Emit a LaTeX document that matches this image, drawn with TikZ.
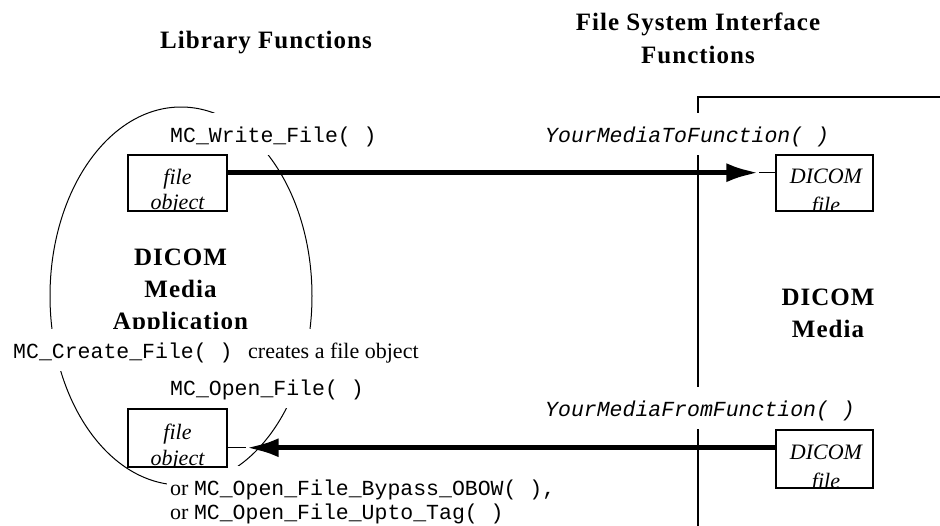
\documentclass[tikz,border=0pt]{standalone}
\usepackage{fontspec}
\setmainfont{Liberation Serif}
\setmonofont{Liberation Mono}
\newfontfamily\headfont[LetterSpace=4]{Liberation Serif}
\usetikzlibrary{arrows.meta,calc}
\begin{document}
\begin{tikzpicture}[x=1pt,y=-1pt,
  heading/.style={font=\headfont\bfseries\fontsize{25}{30}\selectfont, anchor=base, inner sep=0pt},
  lbl/.style={anchor=base west, fill=white, text height=16pt, text depth=0pt, inner ysep=13pt, inner xsep=3pt},
  monolbl/.style={lbl, font=\ttfamily\fontsize{21.5}{26}\selectfont},
  seriflbl/.style={lbl, font=\fontsize{22}{26}\selectfont},
  objbox/.style={draw, line width=1.3pt, minimum width=99pt, minimum height=56pt, inner sep=0pt},
  boxtxt/.style={font=\itshape\fontsize{22}{26}\selectfont, anchor=base, inner sep=0pt},
  bigline/.style={line width=5.5pt, -{Latex[length=33pt,width=19pt]}},
  thinline/.style={line width=1.5pt},
  frameline/.style={line width=1.3pt},
]
\useasboundingbox (0,0) rectangle (940,525);

% headings
\node[heading] (lib) at (266,48) {Library Functions};
\node[heading] (fsi1) at (698,30) {File System Interface};
\node[heading] (fsi2) at (698,63) {Functions};

% media region frame
\draw[frameline] (698,527) -- (698,97) -- (942,97);
\node[heading] (dm1) at (828,305) {DICOM};
\node[heading] (dm2) at (828,337) {Media};

% application ellipse
\draw[line width=1pt] (181,296) ellipse [x radius=131, y radius=189];
\node[heading] (da1) at (180.5,265) {DICOM};
\node[heading] (da2) at (180.5,297) {Media};
\node[heading] (da3) at (180.5,329) {Application};

% labels with white frames
\node[monolbl] (wr) at (167,142) {MC\_Write\_File( )};
\node[monolbl] (ymt) at (542,142) {\itshape YourMediaToFunction( )};
\node[monolbl] (cr) at (10,358) {MC\_Create\_File( )};
\node[seriflbl] (cro) at (245,358) {creates a file object};
\node[monolbl] (op) at (167,395) {MC\_Open\_File( )};
\node[monolbl] (ymf) at (542,416) {\itshape YourMediaFromFunction( )};
\node[monolbl] (orA) at (167,495) {{\rmfamily\fontsize{22}{26}\selectfont or }MC\_Open\_File\_Bypass\_OBOW( ),};
\node[monolbl, fill=none] (orB) at (167,519) {{\rmfamily\fontsize{22}{26}\selectfont or }MC\_Open\_File\_Upto\_Tag( )};

% boxes
\node[objbox] (fo1) at (177.5,183) {};
\node[objbox, minimum height=58pt] (fo2) at (177.5,438) {};
\node[objbox, minimum width=97pt] (df1) at (824.5,183) {};
\node[objbox, minimum width=97pt, minimum height=58pt] (df2) at (824.5,459) {};

\begin{scope}
  \clip (fo1.south west) rectangle (fo1.north east);
  \node[boxtxt] (fo1a) at (177.5,184) {file};
  \node[boxtxt] (fo1b) at (177.5,209) {object};
\end{scope}
\begin{scope}
  \clip (fo2.south west) rectangle (fo2.north east);
  \node[boxtxt] (fo2a) at (177.5,439) {file};
  \node[boxtxt] (fo2b) at (177.5,465) {object};
\end{scope}
\begin{scope}
  \clip (df1.south west) rectangle (df1.north east);
  \node[boxtxt] (df1a) at (826,183) {DICOM};
  \node[boxtxt] (df1b) at (826,212) {file};
\end{scope}
\begin{scope}
  \clip (df2.south west) rectangle (df2.north east);
  \node[boxtxt] (df2a) at (826,459) {DICOM};
  \node[boxtxt] (df2b) at (826,488) {file};
\end{scope}

% arrows
\coordinate (a1s) at ($(fo1.north east)!0.32!(fo1.south east)$);
\coordinate (a1e) at (df1.west |- a1s);
\coordinate (a1t) at ($(a1e)+(-16,0)$);
\draw[bigline] (a1s) -- (a1t);
\draw[thinline] (a1t) -- (a1e);

\coordinate (a2s) at ($(df2.north west)!0.31!(df2.south west)$);
\coordinate (a2e) at (fo2.east |- a2s);
\coordinate (a2t) at ($(a2e)+(18,0)$);
\draw[bigline] (a2s) -- (a2t);
\draw[thinline] (a2t) -- (a2e);
\end{tikzpicture}
\end{document}
